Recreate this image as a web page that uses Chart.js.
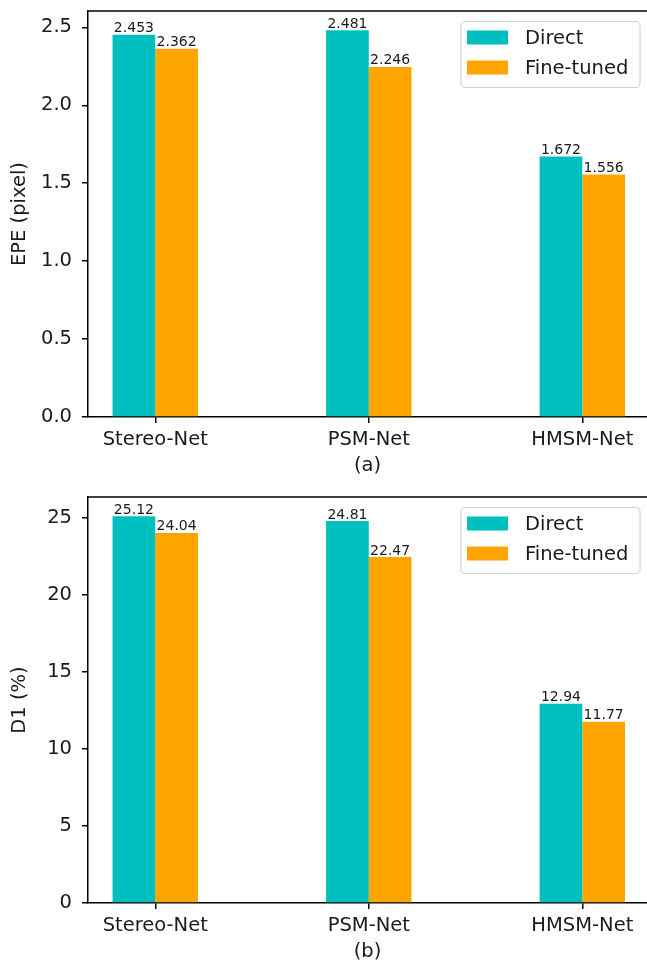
<!DOCTYPE html>
<html><head><meta charset="utf-8">
<script src="https://cdn.jsdelivr.net/npm/chart.js@4.4.1/dist/chart.umd.min.js"></script>
<style>
html,body{margin:0;padding:0;background:#fff;overflow:hidden;width:647px;height:964px;}
.panel{position:absolute;left:0;width:647px;height:478px;}
</style></head><body>
<div class="panel" style="top:0"><canvas id="cA" width="647" height="478"></canvas></div>
<div class="panel" style="top:486px"><canvas id="cB" width="647" height="478"></canvas></div>
<script>
const categories = ['Stereo-Net', 'PSM-Net', 'HMSM-Net'];
const seriesNames = ['Direct', 'Fine-tuned'];
const epeDirect = [2.453, 2.481, 1.672];
const epeFineTuned = [2.362, 2.246, 1.556];
const d1Direct = [25.12, 24.81, 12.94];
const d1FineTuned = [24.04, 22.47, 11.77];
const epeTicks = [0, 0.5, 1.0, 1.5, 2.0, 2.5];
const epeTickLabels = ['0.0', '0.5', '1.0', '1.5', '2.0', '2.5'];
const d1Ticks = [0, 5, 10, 15, 20, 25];
const d1TickLabels = ['0', '5', '10', '15', '20', '25'];
const subplotLabels = ['(a)', '(b)'];
const yTitles = ['EPE (pixel)', 'D1 (%)'];
const epeYMax = 2.605;
const d1YMax = 26.376;
const xRange = [-0.315, 2.303];   // visible part of the x axis (right spine is cropped)

const COLORS = ['#00BFBF', '#FFA500'];
const FONT = 'DejaVu Sans';
const TXT = '#1a1a1a';

const topSpinePlugin = {
  id: 'topSpine',
  afterDraw(chart) {
    const {ctx, chartArea: a} = chart;
    ctx.save();
    ctx.strokeStyle = '#000';
    ctx.lineWidth = 1.5;
    ctx.beginPath();
    ctx.moveTo(a.left, a.top);
    ctx.lineTo(a.right, a.top);
    ctx.stroke();
    ctx.restore();
  }
};

const valueLabelPlugin = {
  id: 'valueLabels',
  afterDatasetsDraw(chart, args, opts) {
    const {ctx} = chart;
    ctx.save();
    ctx.font = '14px "' + FONT + '"';
    ctx.fillStyle = TXT;
    ctx.textAlign = 'center';
    ctx.textBaseline = 'alphabetic';
    chart.data.datasets.forEach((ds, di) => {
      const meta = chart.getDatasetMeta(di);
      meta.data.forEach((el, i) => {
        const v = ds.data[i].y;
        ctx.fillText(v.toFixed(opts.decimals), el.x, el.y - 2.5);
      });
    });
    ctx.restore();
  }
};

const boxLegendPlugin = {
  id: 'boxLegend',
  afterDraw(chart) {
    const {ctx, chartArea: a} = chart;
    const w = 179, h = 66;
    const x0 = a.right - 7 - w, y0 = a.top + 10.5;
    ctx.save();
    ctx.fillStyle = 'rgba(255,255,255,0.8)';
    ctx.strokeStyle = '#d4d4d4';
    ctx.lineWidth = 1.2;
    ctx.beginPath();
    ctx.roundRect(x0, y0, w, h, 4);
    ctx.fill();
    ctx.stroke();
    ctx.font = '19.5px "' + FONT + '"';
    ctx.textBaseline = 'middle';
    ctx.textAlign = 'left';
    chart.data.datasets.forEach((ds, i) => {
      const cy = y0 + 16 + i * 30;
      ctx.fillStyle = ds.backgroundColor;
      ctx.fillRect(x0 + 6, cy - 7, 41, 14);
      ctx.fillStyle = TXT;
      ctx.fillText(ds.label, x0 + 64, cy + 1);
    });
    ctx.restore();
  }
};

function noPad(s) { s.paddingTop = 0; s.paddingBottom = 0; s.paddingLeft = 0; s.paddingRight = 0; }

function makeChart(id, direct, fine, yMax, ticks, tickLabels, yTitle, xTitle, decimals) {
  const tickFont = {family: FONT, size: 19.5};
  return new Chart(document.getElementById(id), {
    type: 'bar',
    data: {
      datasets: [
        {label: seriesNames[0], data: direct.map((v, i) => ({x: i, y: v})), backgroundColor: COLORS[0]},
        {label: seriesNames[1], data: fine.map((v, i) => ({x: i, y: v})), backgroundColor: COLORS[1]}
      ]
    },
    options: {
      responsive: false,
      animation: false,
      devicePixelRatio: 1,
      layout: {padding: {top: 11, left: 0, right: 0, bottom: 0}},
      datasets: {bar: {categoryPercentage: 0.4, barPercentage: 1.0, borderWidth: 0}},
      plugins: {
        legend: {display: false},
        tooltip: {enabled: false},
        valueLabels: {decimals: decimals}
      },
      scales: {
        x: {
          type: 'linear',
          offset: false,
          min: xRange[0],
          max: xRange[1],
          afterBuildTicks: s => { s.ticks = categories.map((c, i) => ({value: i})); },
          afterFit: s => { s.height = 478 - 417; noPad(s); },
          grid: {display: true, drawOnChartArea: false, drawTicks: true, tickLength: 6, color: '#000', lineWidth: 1.5, offset: false},
          border: {display: true, color: '#000', width: 1.5},
          ticks: {autoSkip: false, maxRotation: 0, padding: 5, color: TXT, font: tickFont,
                  callback: v => categories[v]},
          title: {display: true, text: xTitle, color: TXT, font: tickFont, padding: {top: 0, bottom: 0}}
        },
        y: {
          type: 'linear',
          min: 0,
          max: yMax,
          afterBuildTicks: s => { s.ticks = ticks.map(v => ({value: v})); },
          afterFit: s => { s.width = 88; noPad(s); },
          grid: {display: true, drawOnChartArea: false, drawTicks: true, tickLength: 6, color: '#000', lineWidth: 1.5},
          border: {display: true, color: '#000', width: 1.5},
          ticks: {padding: 10, color: TXT, font: tickFont,
                  callback: v => tickLabels[ticks.indexOf(v)]},
          title: {display: true, text: yTitle, color: TXT, font: tickFont, padding: {top: 8, bottom: 0}}
        }
      }
    },
    plugins: [topSpinePlugin, valueLabelPlugin, boxLegendPlugin]
  });
}

makeChart('cA', epeDirect, epeFineTuned, epeYMax, epeTicks, epeTickLabels, yTitles[0], subplotLabels[0], 3);
makeChart('cB', d1Direct, d1FineTuned, d1YMax, d1Ticks, d1TickLabels, yTitles[1], subplotLabels[1], 2);
</script>
</body></html>
